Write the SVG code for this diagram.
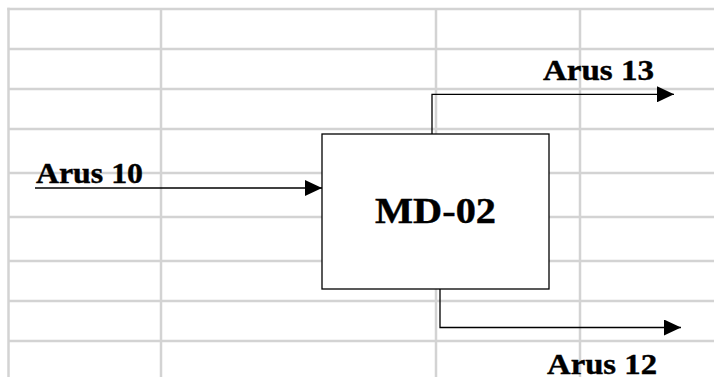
<svg xmlns="http://www.w3.org/2000/svg" width="714" height="377" viewBox="0 0 714 377">
  <style>
    .grid line { stroke: #d3d3d3; stroke-width: 2.5; }
    .box { fill: #ffffff; stroke: #000000; stroke-width: 1.3; }
    .flow { fill: none; stroke: #000000; stroke-width: 1.3; marker-end: url(#head); }
    .lbl { font-family: "Liberation Serif", "Times New Roman", serif; font-weight: bold; fill: #000000; stroke: #000000; stroke-width: 0.4; }
  </style>
  <defs>
    <marker id="head" markerUnits="userSpaceOnUse" markerWidth="18" markerHeight="16" refX="17" refY="8" orient="auto">
      <path d="M0,0 L17,8 L0,16 Z" fill="#000000"/>
    </marker>
  </defs>

  <rect width="714" height="377" fill="#ffffff"/>

  <!-- spreadsheet cell grid -->
  <g id="grid" class="grid">
    <line x1="7.3" y1="9" x2="714" y2="9"/>
    <line x1="8.5" y1="49" x2="714" y2="49"/>
    <line x1="8.5" y1="89" x2="714" y2="89"/>
    <line x1="8.5" y1="129" x2="714" y2="129"/>
    <line x1="8.5" y1="173" x2="714" y2="173"/>
    <line x1="8.5" y1="217" x2="714" y2="217"/>
    <line x1="8.5" y1="261" x2="714" y2="261"/>
    <line x1="8.5" y1="301" x2="714" y2="301"/>
    <line x1="8.5" y1="341" x2="714" y2="341"/>
    <line x1="8.5" y1="7.8" x2="8.5" y2="377"/>
    <line x1="161" y1="9" x2="161" y2="377"/>
    <line x1="436" y1="9" x2="436" y2="377"/>
    <line x1="580" y1="9" x2="580" y2="377"/>
  </g>

  <!-- process unit -->
  <g id="md02">
    <rect class="box" x="322" y="134" width="227" height="155"/>
    <text class="lbl" x="375" y="223" font-size="35" textLength="121" lengthAdjust="spacingAndGlyphs">MD-02</text>
  </g>

  <!-- streams -->
  <g id="connectors">
    <path class="flow" d="M35,188 H322"/>
    <path class="flow" d="M432,134 V94.3 H674"/>
    <path class="flow" d="M440,289 V327.5 H681"/>
  </g>

  <g id="arus10">
    <text class="lbl" x="36" y="183" font-size="29" textLength="107" lengthAdjust="spacingAndGlyphs">Arus 10</text>
  </g>
  <g id="arus13">
    <text class="lbl" x="543" y="80" font-size="29" textLength="111" lengthAdjust="spacingAndGlyphs">Arus 13</text>
  </g>
  <g id="arus12">
    <text class="lbl" x="547" y="374" font-size="29" textLength="110" lengthAdjust="spacingAndGlyphs">Arus 12</text>
  </g>
</svg>
